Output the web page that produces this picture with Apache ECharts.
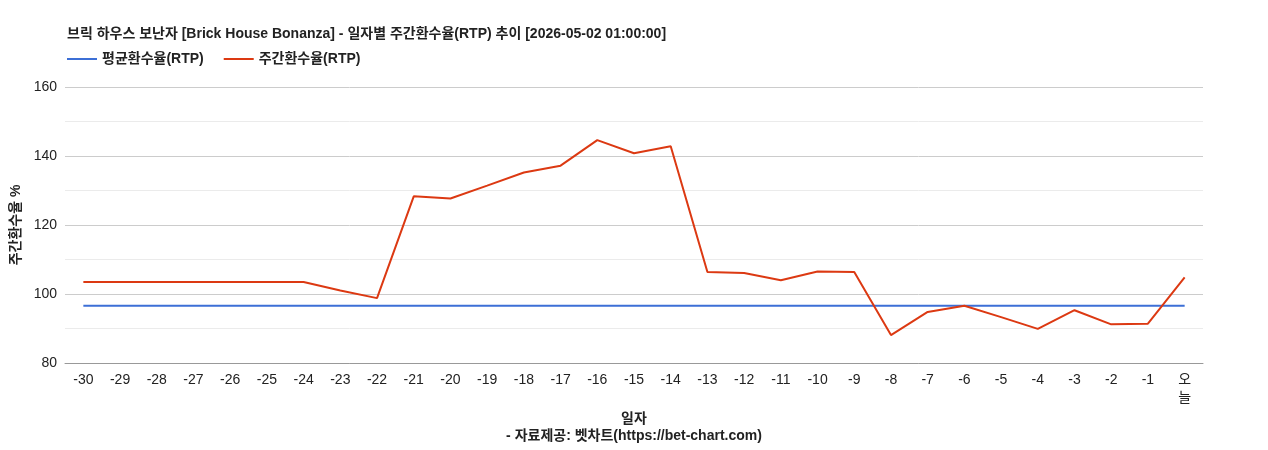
<!DOCTYPE html>
<html><head><meta charset="utf-8">
<script src="https://cdn.jsdelivr.net/npm/echarts@6/dist/echarts.min.js"></script>
<style>html,body{margin:0;padding:0;background:#fff}#c{width:1268px;height:450px}</style>
</head><body><div id="c"></div>
<script>
const categories = ['-30','-29','-28','-27','-26','-25','-24','-23','-22','-21','-20','-19','-18','-17','-16','-15','-14','-13','-12','-11','-10','-9','-8','-7','-6','-5','-4','-3','-2','-1','오\n늘'];
const weeklyRtp = [103.5,103.5,103.5,103.5,103.5,103.5,103.5,101,98.8,128.3,127.7,131.4,135.2,137.2,144.6,140.8,142.8,106.4,106.1,104.0,106.5,106.4,88.1,94.8,96.6,93.3,89.9,95.3,91.2,91.4,104.8];
const avgRtp = categories.map(() => 96.6);
const yTicks = {min: 80, max: 160, interval: 10};
const F = '"Liberation Sans", Arial, "Noto Sans CJK KR", sans-serif';
const chart = echarts.init(document.getElementById('c'));
chart.setOption({
  textStyle:{fontFamily:F},
  title:{text:'브릭 하우스 보난자 [Brick House Bonanza] - 일자별 주간환수율(RTP) 추이 [2026-05-02 01:00:00]',left:62,top:22,textStyle:{fontSize:14,fontWeight:'bold',color:'#222',fontFamily:F}},
  legend:{left:62,top:47,itemWidth:30,itemHeight:2,icon:'rect',itemGap:20,textStyle:{fontSize:14,fontWeight:'bold',color:'#222'},data:['평균환수율(RTP)','주간환수율(RTP)']},
  graphic:[{type:'text',left:'center',top:429,style:{text:'- 자료제공: 벳차트(https://bet-chart.com)',font:'bold 14px '+F,fill:'#222'}}],
  grid:{left:65,right:65,top:87,bottom:87},
  xAxis:{type:'category',data:categories,boundaryGap:true,name:'일자',nameLocation:'middle',nameGap:44,
    nameTextStyle:{fontSize:14,fontWeight:'bold',color:'#222'},
    axisLine:{lineStyle:{color:'#999'}},axisTick:{show:false},axisLabel:{fontSize:14,color:'#222',interval:0,lineHeight:18}},
  yAxis:{type:'value',min:yTicks.min,max:yTicks.max,interval:yTicks.interval,name:'주간환수율 %',nameLocation:'middle',nameGap:36,nameRotate:90,
    nameTextStyle:{fontSize:14,fontWeight:'bold',color:'#222'},
    axisLabel:{fontSize:14,color:'#222',formatter:v=>v%20===0?v:''},
    splitLine:{lineStyle:{color:['#ccc','#ebebeb']}}},
  series:[
    {name:'평균환수율(RTP)',type:'line',data:avgRtp,symbol:'none',lineStyle:{width:2,color:'#3c6fd6'},itemStyle:{color:'#3c6fd6'}},
    {name:'주간환수율(RTP)',type:'line',data:weeklyRtp,symbol:'none',lineStyle:{width:2,color:'#dc3912'},itemStyle:{color:'#dc3912'}}
  ]
});
</script></body></html>
